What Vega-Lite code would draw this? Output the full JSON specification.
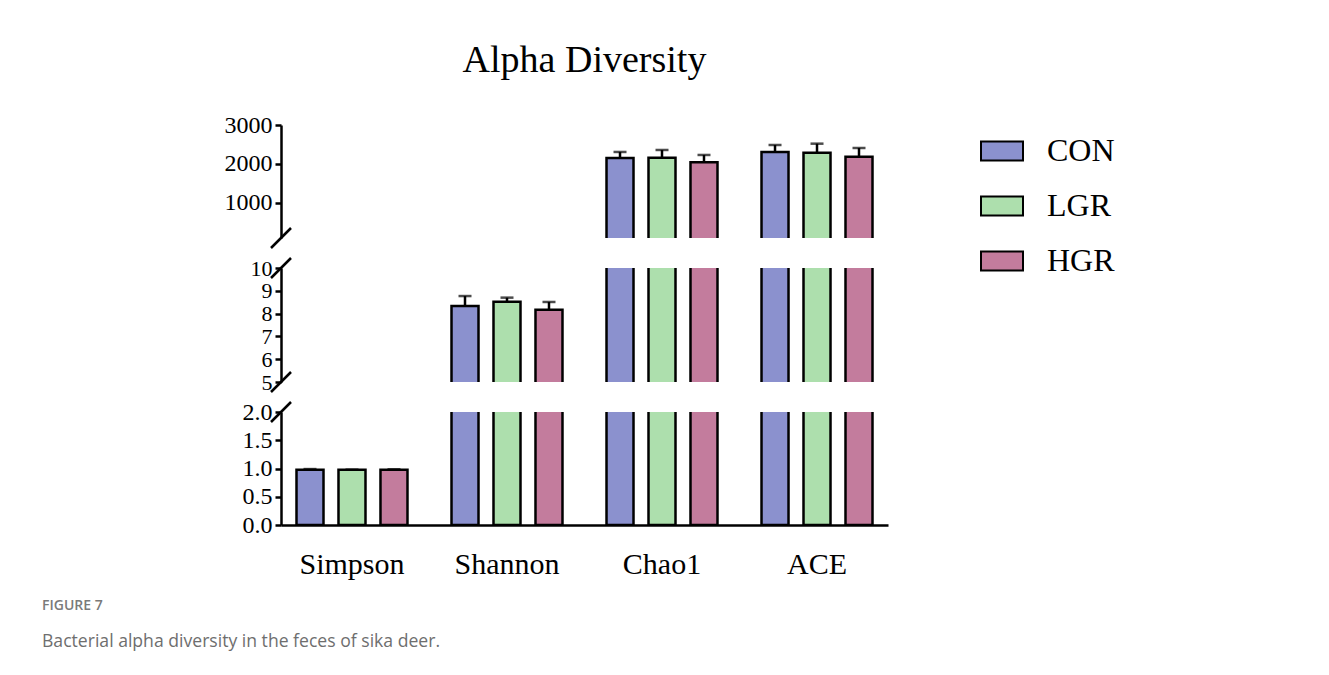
{
  "$schema": "https://vega.github.io/schema/vega-lite/v6.json",
  "background": "white",
  "padding": {"left": 42, "top": 42, "right": 5, "bottom": 5},
  "datasets": {
    "stats": [
      {"index": "Simpson", "group": "CON", "mean": 0.978, "upper": 0.99},
      {"index": "Simpson", "group": "LGR", "mean": 0.977, "upper": 0.98},
      {"index": "Simpson", "group": "HGR", "mean": 0.978, "upper": 0.986},
      {"index": "Shannon", "group": "CON", "mean": 8.33, "upper": 8.77},
      {"index": "Shannon", "group": "LGR", "mean": 8.52, "upper": 8.70},
      {"index": "Shannon", "group": "HGR", "mean": 8.17, "upper": 8.51},
      {"index": "Chao1", "group": "CON", "mean": 2154, "upper": 2308},
      {"index": "Chao1", "group": "LGR", "mean": 2162, "upper": 2359},
      {"index": "Chao1", "group": "HGR", "mean": 2044, "upper": 2231},
      {"index": "ACE", "group": "CON", "mean": 2308, "upper": 2487},
      {"index": "ACE", "group": "LGR", "mean": 2290, "upper": 2521},
      {"index": "ACE", "group": "HGR", "mean": 2187, "upper": 2410}
    ],
    "caption": [
      {"line": "label", "text": "FIGURE 7"},
      {"line": "caption", "text": "Bacterial alpha diversity in the feces of sika deer."}
    ]
  },
  "config": {
    "view": {"stroke": null},
    "font": "Liberation Serif",
    "axis": {
      "grid": false,
      "domainColor": "black",
      "domainWidth": 2.5,
      "tickColor": "black",
      "tickWidth": 2.5,
      "tickSize": 6,
      "labelColor": "black",
      "labelFont": "Liberation Serif",
      "labelFontSize": 24,
      "labelPadding": 3,
      "labelOverlap": false,
      "labelFlush": false,
      "labelBound": false,
      "title": null
    },
    "legend": {
      "orient": "right",
      "offset": 88,
      "padding": 4,
      "labelFont": "Liberation Serif",
      "labelFontSize": 32,
      "labelColor": "black",
      "symbolType": "M-1,-0.45H1V0.45H-1Z",
      "symbolSize": 1764,
      "symbolStrokeColor": "black",
      "symbolStrokeWidth": 2,
      "symbolOpacity": 1,
      "rowPadding": 17,
      "labelOffset": 23
    }
  },
  "spacing": 20,
  "vconcat": [
    {
      "spacing": 20,
      "hconcat": [
        {
          "width": 162,
          "height": 10,
          "data": {"values": []},
          "mark": "point"
        },
        {
          "spacing": 30,
          "bounds": "flush",
          "resolve": {"scale": {"y": "independent", "x": "independent", "xOffset": "independent"}},
          "vconcat": [
            {
              "title": {"text": "Alpha Diversity", "anchor": "middle", "frame": "group", "font": "Liberation Serif", "fontSize": 38, "fontWeight": "normal", "color": "black", "offset": 33},
              "width": 607,
              "height": 113,
              "layer": [
                {
                  "data": {"name": "stats"},
                  "layer": [
                    {
                      "mark": {"type": "bar", "clip": true, "stroke": "black", "strokeWidth": 2.5},
                      "encoding": {
                        "x": {"field": "index", "type": "nominal", "sort": ["Simpson", "Shannon", "Chao1", "ACE"], "scale": {"paddingInner": 0.2, "paddingOuter": 0.058}, "axis": null},
                        "xOffset": {"field": "group", "type": "nominal", "sort": ["CON", "LGR", "HGR"], "scale": {"paddingInner": 0.357, "paddingOuter": 0.155}},
                        "y": {"field": "mean", "type": "quantitative", "scale": {"domain": [100, 3000], "nice": false, "zero": false}, "axis": {"values": [1000, 2000, 3000], "tickCount": 20, "format": "d", "labelOverlap": false}},
                        "y2": {"datum": 0},
                        "color": {"field": "group", "type": "nominal", "sort": ["CON", "LGR", "HGR"], "title": null, "scale": {"domain": ["CON", "LGR", "HGR"], "range": ["#8B91CE", "#ADDFAD", "#C37C9D"]}}
                      }
                    },
                    {
                      "mark": {"type": "rule", "clip": true, "color": "black", "strokeWidth": 2.5},
                      "encoding": {
                        "x": {"field": "index", "type": "nominal", "sort": ["Simpson", "Shannon", "Chao1", "ACE"]},
                        "xOffset": {"field": "group", "type": "nominal", "sort": ["CON", "LGR", "HGR"]},
                        "y": {"field": "mean", "type": "quantitative"},
                        "y2": {"field": "upper"}
                      }
                    },
                    {
                      "mark": {"type": "tick", "clip": true, "color": "black", "thickness": 2.5, "size": 13},
                      "encoding": {
                        "x": {"field": "index", "type": "nominal", "sort": ["Simpson", "Shannon", "Chao1", "ACE"]},
                        "xOffset": {"field": "group", "type": "nominal", "sort": ["CON", "LGR", "HGR"]},
                        "y": {"field": "upper", "type": "quantitative"}
                      }
                    }
                  ]
                },
                {
                  "data": {"values": [{"edge": 100}]},
                  "mark": {"type": "point", "shape": "M-1,1L1,-1", "size": 400, "filled": false, "stroke": "black", "strokeWidth": 2.5, "opacity": 1},
                  "encoding": {
                    "x": {"datum": 0, "type": "quantitative", "scale": {"domain": [0, 1]}, "axis": null},
                    "y": {"field": "edge", "type": "quantitative"}
                  }
                }
              ],
              "resolve": {"scale": {"x": "independent"}}
            },
            {
              "width": 607,
              "height": 114,
              "layer": [
                {
                  "data": {"name": "stats"},
                  "layer": [
                    {
                      "mark": {"type": "bar", "clip": true, "stroke": "black", "strokeWidth": 2.5},
                      "encoding": {
                        "x": {"field": "index", "type": "nominal", "sort": ["Simpson", "Shannon", "Chao1", "ACE"], "scale": {"paddingInner": 0.2, "paddingOuter": 0.058}, "axis": null},
                        "xOffset": {"field": "group", "type": "nominal", "sort": ["CON", "LGR", "HGR"], "scale": {"paddingInner": 0.357, "paddingOuter": 0.155}},
                        "y": {"field": "mean", "type": "quantitative", "scale": {"domain": [5, 10], "nice": false, "zero": false}, "axis": {"values": [5, 6, 7, 8, 9, 10], "tickCount": 20, "format": "d", "labelOverlap": false, "labelFontSize": 22}},
                        "y2": {"datum": 0},
                        "color": {"field": "group", "type": "nominal", "sort": ["CON", "LGR", "HGR"], "title": null, "scale": {"domain": ["CON", "LGR", "HGR"], "range": ["#8B91CE", "#ADDFAD", "#C37C9D"]}}
                      }
                    },
                    {
                      "mark": {"type": "rule", "clip": true, "color": "black", "strokeWidth": 2.5},
                      "encoding": {
                        "x": {"field": "index", "type": "nominal", "sort": ["Simpson", "Shannon", "Chao1", "ACE"]},
                        "xOffset": {"field": "group", "type": "nominal", "sort": ["CON", "LGR", "HGR"]},
                        "y": {"field": "mean", "type": "quantitative"},
                        "y2": {"field": "upper"}
                      }
                    },
                    {
                      "mark": {"type": "tick", "clip": true, "color": "black", "thickness": 2.5, "size": 13},
                      "encoding": {
                        "x": {"field": "index", "type": "nominal", "sort": ["Simpson", "Shannon", "Chao1", "ACE"]},
                        "xOffset": {"field": "group", "type": "nominal", "sort": ["CON", "LGR", "HGR"]},
                        "y": {"field": "upper", "type": "quantitative"}
                      }
                    }
                  ]
                },
                {
                  "data": {"values": [{"edge": 5}, {"edge": 10}]},
                  "mark": {"type": "point", "shape": "M-1,1L1,-1", "size": 400, "filled": false, "stroke": "black", "strokeWidth": 2.5, "opacity": 1},
                  "encoding": {
                    "x": {"datum": 0, "type": "quantitative", "scale": {"domain": [0, 1]}, "axis": null},
                    "y": {"field": "edge", "type": "quantitative"}
                  }
                }
              ],
              "resolve": {"scale": {"x": "independent"}}
            },
            {
              "width": 607,
              "height": 113,
              "layer": [
                {
                  "data": {"name": "stats"},
                  "layer": [
                    {
                      "mark": {"type": "bar", "clip": true, "stroke": "black", "strokeWidth": 2.5},
                      "encoding": {
                        "x": {"field": "index", "type": "nominal", "sort": ["Simpson", "Shannon", "Chao1", "ACE"], "scale": {"paddingInner": 0.2, "paddingOuter": 0.058}, "axis": {"labelAngle": 0, "ticks": false, "tickSize": 0, "labelFontSize": 30, "labelPadding": 24}},
                        "xOffset": {"field": "group", "type": "nominal", "sort": ["CON", "LGR", "HGR"], "scale": {"paddingInner": 0.357, "paddingOuter": 0.155}},
                        "y": {"field": "mean", "type": "quantitative", "scale": {"domain": [0, 2], "nice": false, "zero": false}, "axis": {"values": [0, 0.5, 1, 1.5, 2], "tickCount": 20, "format": ".1f", "labelOverlap": false}},
                        "y2": {"datum": 0},
                        "color": {"field": "group", "type": "nominal", "sort": ["CON", "LGR", "HGR"], "title": null, "scale": {"domain": ["CON", "LGR", "HGR"], "range": ["#8B91CE", "#ADDFAD", "#C37C9D"]}}
                      }
                    },
                    {
                      "mark": {"type": "rule", "clip": true, "color": "black", "strokeWidth": 2.5},
                      "encoding": {
                        "x": {"field": "index", "type": "nominal", "sort": ["Simpson", "Shannon", "Chao1", "ACE"]},
                        "xOffset": {"field": "group", "type": "nominal", "sort": ["CON", "LGR", "HGR"]},
                        "y": {"field": "mean", "type": "quantitative"},
                        "y2": {"field": "upper"}
                      }
                    },
                    {
                      "mark": {"type": "tick", "clip": true, "color": "black", "thickness": 2.5, "size": 13},
                      "encoding": {
                        "x": {"field": "index", "type": "nominal", "sort": ["Simpson", "Shannon", "Chao1", "ACE"]},
                        "xOffset": {"field": "group", "type": "nominal", "sort": ["CON", "LGR", "HGR"]},
                        "y": {"field": "upper", "type": "quantitative"}
                      }
                    }
                  ]
                },
                {
                  "data": {"values": [{"edge": 2}]},
                  "mark": {"type": "point", "shape": "M-1,1L1,-1", "size": 400, "filled": false, "stroke": "black", "strokeWidth": 2.5, "opacity": 1},
                  "encoding": {
                    "x": {"datum": 0, "type": "quantitative", "scale": {"domain": [0, 1]}, "axis": null},
                    "y": {"field": "edge", "type": "quantitative"}
                  }
                }
              ],
              "resolve": {"scale": {"x": "independent"}}
            }
          ]
        }
      ]
    },
    {
      "width": 400,
      "height": 36,
      "data": {"name": "caption"},
      "layer": [
        {
          "transform": [{"filter": "datum.line == 'label'"}],
          "mark": {"type": "text", "align": "left", "baseline": "middle", "font": "Open Sans", "fontSize": 14, "fontWeight": 600, "color": "#7a7a7a"},
          "encoding": {
            "x": {"datum": 0, "type": "quantitative", "scale": {"domain": [0, 1]}, "axis": null},
            "y": {"field": "line", "type": "nominal", "scale": {"type": "point", "domain": ["label", "caption"], "padding": 0}, "axis": null},
            "text": {"field": "text"}
          }
        },
        {
          "transform": [{"filter": "datum.line == 'caption'"}],
          "mark": {"type": "text", "align": "left", "baseline": "middle", "font": "Open Sans", "fontSize": 17.6, "color": "#6e6e6e"},
          "encoding": {
            "x": {"datum": 0, "type": "quantitative", "scale": {"domain": [0, 1]}, "axis": null},
            "y": {"field": "line", "type": "nominal", "scale": {"type": "point", "domain": ["label", "caption"], "padding": 0}, "axis": null},
            "text": {"field": "text"}
          }
        }
      ]
    }
  ]
}
